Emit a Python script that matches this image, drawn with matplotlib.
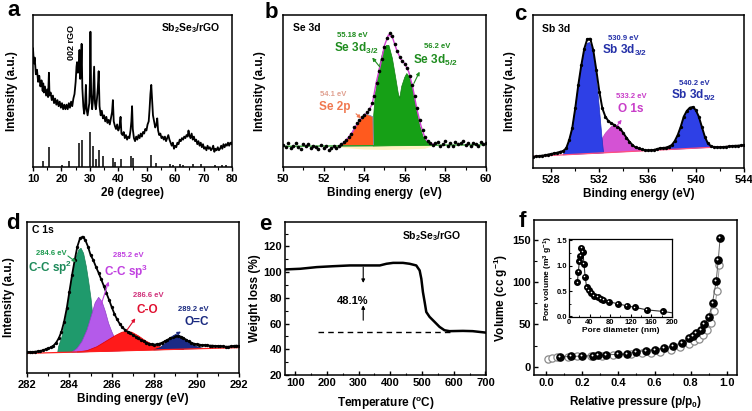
import numpy as np
import matplotlib
matplotlib.use("Agg")
import matplotlib.pyplot as plt
from matplotlib.ticker import MultipleLocator, FormatStrFormatter
from matplotlib import transforms

plt.rcParams['font.family'] = ['Liberation Sans', 'DejaVu Sans']
plt.rcParams['font.weight'] = 'bold'
plt.rcParams['axes.labelweight'] = 'bold'
plt.rcParams['mathtext.fontset'] = 'custom'
plt.rcParams['mathtext.rm'] = 'Liberation Sans:bold'
plt.rcParams['mathtext.it'] = 'Liberation Sans:bold'
plt.rcParams['mathtext.bf'] = 'Liberation Sans:bold'
plt.rcParams['axes.linewidth'] = 1.1

# ---- (a) XRD pattern, intensity in arbitrary units (frame = 0..100)
xrd_theta = [10.0, 10.3, 10.6, 11.0, 11.4, 11.8, 12.2, 12.6, 13.0, 13.4, 13.6, 13.8, 14.2, 14.6, 15.0, 15.3,
             15.6, 15.8, 16.2, 16.6, 17.0, 17.4, 17.8, 18.2, 18.6, 19.0, 19.4, 19.8, 20.2, 20.6, 21.0, 21.4,
             21.8, 22.2, 22.6, 23.0, 23.4, 23.8, 24.2, 24.6, 25.0, 25.3, 25.5, 25.8, 26.1, 26.35, 26.6, 26.9,
             27.1, 27.35, 27.7, 28.0, 28.3, 28.6, 28.85, 29.2, 29.5, 29.8, 30.0, 30.2, 30.45, 30.8, 31.1, 31.5,
             31.8, 32.1, 32.5, 32.8, 33.1, 33.4, 33.8, 34.2, 34.6, 35.0, 35.4, 35.8, 36.2, 36.6, 37.0, 37.4,
             37.8, 38.1, 38.4, 38.8, 39.2, 39.6, 40.0, 40.4, 40.8, 41.1, 41.5, 41.9, 42.3, 42.7, 43.1, 43.5,
             43.9, 44.3, 44.6, 44.85, 45.1, 45.5, 45.9, 46.3, 46.7, 47.1, 47.5, 47.9, 48.3, 48.7, 49.1, 49.5,
             49.9, 50.3, 50.7, 51.0, 51.3, 51.6, 51.9, 52.2, 52.6, 53.0, 53.4, 53.7, 54.0, 54.4, 54.8, 55.2,
             55.6, 56.0, 56.4, 56.8, 57.2, 57.6, 58.0, 58.4, 58.8, 59.2, 59.6, 60.0, 60.4, 60.8, 61.2, 61.6,
             62.0, 62.4, 62.8, 63.2, 63.6, 64.0, 64.4, 64.7, 65.0, 65.4, 65.8, 66.2, 66.6, 67.0, 67.4, 67.8,
             68.2, 68.6, 69.0, 69.4, 69.8, 70.2, 70.6, 71.0, 71.4, 71.8, 72.2, 72.6, 73.0, 73.4, 73.8, 74.2,
             74.6, 75.0, 75.4, 75.8, 76.2, 76.6, 77.0, 77.4, 77.8, 78.2, 78.6, 79.0, 79.4, 79.8, 80.0]
xrd_int = [78, 68, 72, 61, 64, 56, 60, 53, 57, 50, 55, 49, 53, 47, 51, 46,
           62, 47, 49, 44, 47, 42, 45, 41, 44, 40, 43, 39, 42, 38, 41, 38,
           41, 38, 42, 39, 43, 40, 45, 48, 56, 66, 69, 62, 65, 77, 58, 66,
           81, 52, 40, 35, 40, 54, 38, 34, 38, 42, 55, 89, 48, 38, 44, 66,
           42, 38, 45, 52, 63, 40, 34, 37, 32, 34, 30, 33, 29, 31, 28, 32,
           36, 44, 30, 27, 25, 28, 24, 26, 33, 22, 21, 23, 19, 21, 18, 20,
           19, 24, 30, 40, 25, 19, 17, 20, 18, 21, 19, 22, 20, 23, 22, 25,
           24, 28, 30, 38, 48, 54, 44, 34, 30, 26, 28, 32, 24, 21, 22, 19,
           20, 18, 20, 17, 19, 21, 18, 16, 14, 16, 12, 14, 13, 16, 15, 18,
           17, 19, 18, 20, 19, 21, 20, 24, 21, 19, 22, 18, 20, 17, 18, 15,
           17, 14, 16, 13, 15, 12, 13, 11, 14, 12, 13, 11, 12, 14, 10, 12,
           11, 13, 11, 12, 14, 12, 15, 13, 15, 14, 16, 14, 16, 15, 16]
ref_theta = [13.5, 15.5, 20.3, 22.5, 26.1, 27.2, 30.2, 31.1, 32.0, 33.1, 34.6, 38.1, 38.7, 40.8, 44.6,
             45.2, 51.6, 53.4, 58.1, 59.2, 61.6, 62.8, 66.3, 69.2, 73.9, 76.5, 78.0]
ref_height = [4, 13, 1.5, 4, 16, 18, 23, 14, 5, 11, 7, 6, 3.5, 5, 7,
              6, 8, 2.5, 2, 1.5, 2, 1.5, 2, 2, 1.5, 1.2, 1.5]

# ---- (b) Se 3d
se_step = 0.125
se_int = [14.5, 13.0, 15.5, 12.5, 14.0, 15.8, 13.2, 12.0, 14.8, 13.5, 15.2, 12.8, 14.0, 13.0, 11.8, 14.2,
          12.5, 13.6, 11.5, 12.8, 13.8, 12.2, 13.5, 14.8, 16.5, 17.5, 19.5, 22.0, 26.0, 29.0, 31.0, 33.0,
          34.5, 36.0, 38.0, 42.0, 47.0, 55.0, 63.0, 71.0, 79.0, 85.0, 88.0, 86.0, 81.0, 76.0, 72.5, 70.0,
          68.0, 65.0, 60.0, 54.0, 47.0, 39.0, 31.0, 24.5, 20.0, 17.0, 15.5, 14.2, 15.8, 16.5, 13.8, 15.0,
          16.8, 14.0, 15.5, 13.5, 16.2, 14.8, 15.5, 17.0, 14.5, 15.8, 13.8, 16.0, 15.2, 14.0, 16.5, 15.0, 15.8]
se_env_E = [52.8, 53.0, 53.2, 53.4, 53.6, 53.8, 54.0, 54.2, 54.4, 54.6, 54.8, 55.0, 55.2, 55.4, 55.6,
            55.8, 56.0, 56.2, 56.4, 56.6, 56.8, 57.0, 57.2, 57.4]
se_env_I = [14.0, 16.0, 19.0, 22.5, 27.0, 31.0, 33.8, 36.5, 41.5, 56.0, 67.0, 80.0, 87.0, 85.0, 77.0,
            71.0, 68.0, 62.5, 52.0, 38.0, 27.0, 19.0, 16.0, 15.0]
se3d_E = [54.44, 54.47, 54.55, 54.65, 54.76, 54.93, 55.1, 55.22, 55.39, 55.55, 55.68, 55.75, 55.85,
          56.0, 56.1, 56.24, 56.4, 56.57, 56.73, 56.9, 57.06, 57.22, 57.47]
se3d_I = [13.8, 34, 48, 56, 67, 76, 80, 80, 71.5, 59, 48.5, 45, 53, 59, 61.5, 59, 50.7, 38.6, 27.6,
          20, 16.7, 15.2, 14.6]
se2p_E = [52.8, 53.1, 53.37, 53.6, 53.86, 54.02, 54.27, 54.43, 54.46]
se2p_I = [13.8, 16.7, 22.0, 27.6, 32.0, 35.0, 34.0, 33.0, 13.9]
se_halo_E = [52.6, 53.0, 54.0, 55.0, 56.0, 57.0, 57.6, 57.0, 56.0, 55.0, 54.0, 53.0]
se_halo_I = [13.5, 14.0, 14.0, 14.0, 14.3, 14.8, 14.8, 12.0, 11.5, 11.2, 11.5, 12.5]
se_base_E = [50, 60]
se_base_I = [13.6, 14.6]

# ---- (c) Sb 3d
sb_step = 0.25
sb_int = [7.4, 7.6, 7.8, 8.1, 8.3, 8.8, 9.2, 9.6, 10.0, 10.6, 11.1, 12.9, 18.3, 26.0, 39.0, 54.0,
          67.0, 78.0, 84.3, 84.5, 77.0, 64.0, 50.0, 39.0, 33.6, 30.7, 29.2, 28.1, 27.0, 25.5, 22.7, 19.8,
          17.2, 15.0, 13.5, 12.8, 12.2, 11.8, 11.5, 11.6, 11.8, 12.3, 12.9, 13.1, 13.3, 14.0, 15.0, 17.6,
          21.6, 27.0, 33.6, 37.3, 39.4, 39.9, 37.9, 33.6, 27.0, 20.5, 16.1, 14.4, 13.7, 13.6, 13.5, 13.7,
          13.9, 14.1, 14.4, 14.5, 14.6, 14.8, 15.0]
sb1_E = [529.0, 529.25, 529.5, 529.75, 530.0, 530.25, 530.5, 530.75, 531.0, 531.2, 531.5, 531.65,
         531.93, 532.2, 532.35]
sb1_I = [8.6, 12.5, 18.0, 26.0, 39.0, 54.0, 66.0, 76.0, 81.5, 82.0, 76.0, 67.0, 45.5, 21.6, 9.9]
o1s_E = [531.3, 531.5, 532.0, 532.5, 533.0, 533.3, 533.6, 534.0, 534.5, 535.0, 535.5]
o1s_I = [9.5, 11.5, 16.0, 22.7, 27.0, 28.1, 27.5, 23.0, 17.0, 13.5, 11.2]
sb2_E = [537.6, 538.0, 538.25, 538.5, 538.75, 539.0, 539.25, 539.5, 539.75, 540.0, 540.25, 540.5,
         540.75, 541.0, 541.25, 541.5, 541.8]
sb2_I = [12.0, 14.5, 17.3, 21.3, 26.7, 33.2, 37.0, 39.2, 39.6, 37.5, 33.2, 26.5, 20.0, 15.8, 14.0, 13.5, 13.7]
sb_base_E = [526.5, 544]
sb_base_I = [7.6, 14.6]

# ---- (d) C 1s
c_step = 0.125
c_int = [13.7, 13.9, 13.9, 14.1, 14.3, 14.6, 15.0, 15.7, 16.3, 17.0, 18.1, 20.1, 23.0, 27.4, 34.0, 42.8,
         53.9, 64.9, 74.8, 83.7, 89.2, 90.3, 88.1, 83.7, 78.1, 74.8, 70.4, 66.4, 62.0, 57.6, 52.8, 48.3,
         43.5, 39.1, 35.5, 32.5, 30.2, 28.5, 27.4, 26.3, 25.2, 24.1, 23.0, 21.9, 21.0, 20.1, 19.4, 19.0,
         18.8, 19.0, 19.4, 20.1, 21.0, 21.9, 23.0, 23.8, 24.3, 24.5, 24.1, 23.2, 22.1, 21.0, 20.1, 19.4,
         19.0, 18.8, 18.5, 18.5, 18.3, 18.1, 18.1, 17.9, 17.9, 17.7, 17.7, 17.4, 17.4, 17.7, 17.9, 18.1, 17.9]
sp2_E = [283.45, 283.49, 283.65, 283.81, 283.97, 284.12, 284.28, 284.44, 284.55, 284.67, 284.8, 284.91,
         285.02, 285.11, 285.22, 285.33, 285.43]
sp2_I = [13.6, 17.4, 24.0, 35.0, 48.3, 63.8, 74.8, 81.5, 82.6, 79.2, 70.4, 60.5, 49.4, 37.3, 26.3, 17.4, 14.3]
sp3_E = [284.12, 284.36, 284.59, 284.83, 285.07, 285.22, 285.38, 285.54, 285.7, 285.85, 286.0, 286.17, 286.4]
sp3_I = [13.8, 16.3, 20.8, 28.5, 39.5, 46.6, 50.1, 47.2, 40.6, 32.9, 27.4, 22.0, 14.7]
co_E = [284.36, 284.83, 285.3, 285.77, 286.17, 286.48, 286.72, 286.95, 287.27, 287.58, 287.97, 288.45,
        288.92, 289.4]
co_I = [13.9, 14.8, 17.4, 21.4, 24.8, 27.0, 27.6, 27.0, 24.5, 21.4, 18.6, 16.6, 15.6, 15.8]
oc_E = [287.97, 288.29, 288.6, 288.92, 289.15, 289.39, 289.7, 290.02, 290.33]
oc_I = [15.3, 16.8, 20.8, 24.5, 25.0, 23.0, 19.6, 17.4, 16.2]
c_base_E = [282, 292]
c_base_I = [13.0, 16.8]

# ---- (e) TGA
tga_T = [68.6, 115.7, 168, 220, 272.8, 325, 367, 388, 409, 440, 461, 482, 492.7, 498, 503, 508.4,
         513.6, 524, 539.8, 555.5, 571, 587, 629, 660, 700]
tga_W = [102.1, 102.6, 103.9, 104.6, 105.2, 105.2, 105.2, 106.5, 107.2, 107.2, 106.5, 105.2, 101.3,
         94.8, 84.5, 76.8, 69.0, 65.2, 61.3, 57.4, 54.8, 54.1, 54.3, 54.1, 53.0]
tga_level = 53.5
tga_level_T = [173, 587]

# ---- (f) N2 isotherm
ads_p = [0.08, 0.14, 0.2, 0.26, 0.29, 0.33, 0.4, 0.45, 0.5, 0.55, 0.6, 0.65, 0.7, 0.75, 0.79, 0.81,
         0.83, 0.855, 0.875, 0.9, 0.92, 0.94, 0.952, 0.962]
ads_v = [11.5, 12.0, 12.5, 13.0, 13.5, 14.0, 14.5, 15.5, 17.5, 19.0, 20.0, 22.0, 24.5, 28.5, 33.5, 36.0,
         40.0, 44.0, 50.0, 59.0, 76.0, 101.0, 127.0, 153.0]
des_p = [0.01, 0.035, 0.06, 0.12, 0.17, 0.25, 0.31, 0.37, 0.47, 0.53, 0.58, 0.63, 0.69, 0.74, 0.79,
         0.82, 0.845, 0.87, 0.89, 0.91, 0.93, 0.945, 0.958]
des_v = [9.0, 10.5, 11.0, 11.5, 12.0, 12.5, 13.0, 13.5, 15.0, 15.8, 16.5, 17.5, 20.0, 23.0, 27.0,
         30.0, 33.0, 37.0, 43.0, 52.0, 66.0, 90.0, 120.0]
pore_d = [16.3, 18.2, 20.2, 22.1, 24.1, 26.7, 29.3, 31.3, 34.5, 39.0, 43.6, 48.9, 55.4, 61.9, 67.0,
          77.5, 94.5, 112.0, 128.0, 151.0, 182.0, 205.0]
pore_v = [0.667, 0.88, 1.08, 1.19, 1.34, 1.26, 1.03, 0.78, 0.57, 0.51, 0.46, 0.41, 0.38, 0.35, 0.33,
          0.29, 0.25, 0.21, 0.18, 0.13, 0.10, 0.065]

fig = plt.figure(figsize=(7.52, 4.11), dpi=100)


def style(ax, direction='out'):
    ax.tick_params(which='major', direction=direction, length=3, width=1.0, labelsize=8, pad=2)
    ax.tick_params(which='minor', direction=direction, length=1.8, width=0.8)
    for s in ax.spines.values():
        s.set_linewidth(1.1)


def arrow(ax, tail, head, color):
    ax.annotate('', xy=head, xytext=tail,
                arrowprops=dict(arrowstyle='-|>', color=color, lw=0.8, mutation_scale=5,
                                shrinkA=0, shrinkB=0))


# panel a
ax = fig.add_axes([0.0439, 0.5937, 0.2646, 0.3698])
ax.plot(xrd_theta, xrd_int, color='black', lw=1.3)
ax.vlines(ref_theta, 0, ref_height, color='black', lw=1.1)
ax.set_xlim(10, 80)
ax.set_ylim(0, 100)
ax.set_yticks([])
ax.xaxis.set_major_locator(MultipleLocator(10))
ax.xaxis.set_minor_locator(MultipleLocator(5))
style(ax)
ax.set_xlabel('2θ (degree)', fontsize=8.5)
ax.set_ylabel('Intensity (a.u.)', fontsize=8.5)
ax.xaxis.set_label_coords(0.5, -0.13)
ax.yaxis.set_label_coords(-0.075, 0.5)
ax.text(0.794, 0.914, 'Sb$_2$Se$_3$/rGO', transform=ax.transAxes, ha='center', va='center', fontsize=7.5)
ax.text(23.7, 82, '002 rGO', rotation=90, ha='center', va='center', fontsize=6.5)

# panel b
ax = fig.add_axes([0.3763, 0.5937, 0.2699, 0.3698])
se_E = 50 + se_step * np.arange(len(se_int))
ax.fill(se_halo_E, se_halo_I, color='#fff3c2', lw=0)
ax.fill(se3d_E, se3d_I, facecolor='#16a016', edgecolor='#108010', lw=0.5)
ax.fill(se2p_E, se2p_I, facecolor='#ff5a1e', edgecolor='#8090b0', lw=0.6)
ax.plot(se_base_E, se_base_I, color='#20a020', lw=0.9)
ax.plot(se_env_E, se_env_I, color='#d040d0', lw=1.0)
ax.plot(se_E, se_int, 'o', color='black', ms=2.6, mew=0)
ax.set_xlim(50, 60)
ax.set_ylim(0, 100)
ax.set_yticks([])
ax.xaxis.set_major_locator(MultipleLocator(2))
ax.xaxis.set_minor_locator(MultipleLocator(1))
style(ax)
ax.set_xlabel('Binding energy  (eV)', fontsize=8.5)
ax.set_ylabel('Intensity (a.u.)', fontsize=8.5)
ax.xaxis.set_label_coords(0.5, -0.13)
ax.yaxis.set_label_coords(-0.085, 0.5)
tr = ax.transAxes
ax.text(0.049, 0.912, 'Se 3d', transform=tr, ha='left', va='center', fontsize=7.5)
ax.text(0.34, 0.864, '55.18 eV', transform=tr, ha='center', va='center', fontsize=5.5, color='#1e8c1e')
ax.text(0.36, 0.78, 'Se 3d$_{3/2}$', transform=tr, ha='center', va='center', fontsize=8.5, color='#1e8c1e')
ax.text(0.759, 0.79, '56.2 eV', transform=tr, ha='center', va='center', fontsize=5.5, color='#1e8c1e')
ax.text(0.752, 0.70, 'Se 3d$_{5/2}$', transform=tr, ha='center', va='center', fontsize=8.5, color='#1e8c1e')
ax.text(0.246, 0.474, '54.1 eV', transform=tr, ha='center', va='center', fontsize=5.5, color='#e0a090')
ax.text(0.255, 0.397, 'Se 2p', transform=tr, ha='center', va='center', fontsize=8.5, color='#f07850')
arrow(ax, (54.76, 66), (54.4, 72), '#1e8c1e')
arrow(ax, (56.45, 55), (56.73, 62.7), '#1e8c1e')
arrow(ax, (53.6, 35), (53.85, 32), '#f07850')

# panel c
ax = fig.add_axes([0.7088, 0.5912, 0.2806, 0.3723])
sb_E = 526.5 + sb_step * np.arange(len(sb_int))
ax.fill(o1s_E, o1s_I, facecolor='#d452d4', edgecolor='#c040c0', lw=0.5)
ax.fill(sb1_E, sb1_I, facecolor='#2e40e6', edgecolor='#2030c0', lw=0.5)
ax.fill(sb2_E, sb2_I, facecolor='#2e40e6', edgecolor='#2030c0', lw=0.5)
ax.plot(sb_base_E, sb_base_I, color='#ff5080', lw=0.9)
ax.plot(sb_E, sb_int, '-o', color='black', lw=1.4, ms=2.4, mew=0)
ax.set_xlim(526.5, 544)
ax.set_ylim(0, 100)
ax.set_yticks([])
ax.xaxis.set_major_locator(MultipleLocator(4))
ax.xaxis.set_minor_locator(MultipleLocator(2))
style(ax)
ax.set_xlabel('Binding energy (eV)', fontsize=8.5)
ax.set_ylabel('Intensity (a.u.)', fontsize=8.5)
ax.xaxis.set_label_coords(0.5, -0.13)
ax.yaxis.set_label_coords(-0.08, 0.5)
tr = ax.transAxes
ax.text(0.043, 0.908, 'Sb 3d', transform=tr, ha='left', va='center', fontsize=7.5)
ax.text(0.426, 0.848, '530.9 eV', transform=tr, ha='center', va='center', fontsize=5.5, color='#2430a8')
ax.text(0.434, 0.771, 'Sb 3d$_{3/2}$', transform=tr, ha='center', va='center', fontsize=8.5, color='#2430a8')
ax.text(0.465, 0.466, '533.2 eV', transform=tr, ha='center', va='center', fontsize=5.5, color='#c83cc8')
ax.text(0.465, 0.384, 'O 1s', transform=tr, ha='center', va='center', fontsize=8.5, color='#c83cc8')
ax.text(0.763, 0.554, '540.2 eV', transform=tr, ha='center', va='center', fontsize=5.5, color='#2430a8')
ax.text(0.763, 0.477, 'Sb 3d$_{5/2}$', transform=tr, ha='center', va='center', fontsize=8.5, color='#2430a8')
arrow(ax, (533.45, 27.5), (533.85, 31.5), '#c83cc8')

# panel d
ax = fig.add_axes([0.0359, 0.0925, 0.2819, 0.3674])
c_E = 282 + c_step * np.arange(len(c_int))
ax.fill(sp2_E, sp2_I, facecolor='#1f9a6c', edgecolor='#188058', lw=0.5)
ax.fill(sp3_E, sp3_I, facecolor='#b45aea', edgecolor='#9040c8', lw=0.5)
ax.fill(co_E, co_I, facecolor='#ff1a1a', edgecolor='#e00000', lw=0.5)
ax.fill(oc_E, oc_I, facecolor='#1b2a86', edgecolor='#101c60', lw=0.5)
ax.plot(c_base_E, c_base_I, color='#ff2020', lw=0.9)
ax.plot(c_E, c_int, '-o', color='black', lw=1.3, ms=2.4, mew=0)
ax.set_xlim(282, 292)
ax.set_ylim(0, 100)
ax.set_yticks([])
ax.xaxis.set_major_locator(MultipleLocator(2))
ax.xaxis.set_minor_locator(MultipleLocator(1))
style(ax)
ax.set_xlabel('Binding energy (eV)', fontsize=8.5)
ax.set_ylabel('Intensity (a.u.)', fontsize=8.5)
ax.xaxis.set_label_coords(0.5, -0.13)
ax.yaxis.set_label_coords(-0.055, 0.5)
tr = ax.transAxes
ax.text(0.024, 0.947, 'C 1s', transform=tr, ha='left', va='center', fontsize=7.5)
ax.text(0.113, 0.793, '284.6 eV', transform=tr, ha='center', va='center', fontsize=5.5, color='#1e9a50')
ax.text(0.107, 0.693, 'C-C sp$^2$', transform=tr, ha='center', va='center', fontsize=8.5, color='#1e8a5a')
ax.text(0.48, 0.781, '285.2 eV', transform=tr, ha='center', va='center', fontsize=5.5, color='#c040e0')
ax.text(0.469, 0.671, 'C-C sp$^3$', transform=tr, ha='center', va='center', fontsize=8.5, color='#c040e0')
ax.text(0.574, 0.51, '286.6 eV', transform=tr, ha='center', va='center', fontsize=5.5, color='#d0307a')
ax.text(0.566, 0.417, 'C-O', transform=tr, ha='center', va='center', fontsize=8.5, color='#e01030')
ax.text(0.783, 0.422, '289.2 eV', transform=tr, ha='center', va='center', fontsize=5.5, color='#1a2a80')
ax.text(0.799, 0.34, 'O=C', transform=tr, ha='center', va='center', fontsize=8.5, color='#1a2a80')
arrow(ax, (283.93, 77.5), (284.31, 73.5), '#1e9a50')
arrow(ax, (285.49, 45), (285.85, 60.5), '#c040e0')
arrow(ax, (286.72, 28.5), (287.11, 36.2), '#e01030')
arrow(ax, (288.84, 24), (289.26, 27.4), '#1a2a80')

# panel e
ax = fig.add_axes([0.3790, 0.0876, 0.2673, 0.3723])
ax.plot(tga_T, tga_W, color='black', lw=1.8)
ax.plot(tga_level_T, [tga_level, tga_level], color='black', lw=1.0, ls=(0, (4, 3)))
ax.set_xlim(68, 702)
ax.set_ylim(20, 139)
ax.xaxis.set_major_locator(MultipleLocator(100))
ax.xaxis.set_minor_locator(MultipleLocator(50))
ax.yaxis.set_major_locator(MultipleLocator(20))
ax.yaxis.set_minor_locator(MultipleLocator(10))
style(ax, 'in')
ax.set_xlabel('Temperature ($^o$C)', fontsize=8.5)
ax.set_ylabel('Weight loss (%)', fontsize=8.5)
ax.xaxis.set_label_coords(0.5, -0.13)
ax.yaxis.set_label_coords(-0.12, 0.5)
ax.text(0.731, 0.908, 'Sb$_2$Se$_3$/rGO', transform=ax.transAxes, ha='center', va='center', fontsize=7.5)
ax.text(282, 77.3, '48.1%', ha='center', va='center', fontsize=8)
arrow(ax, (314.7, 103.9), (314.7, 91.6), 'black')
arrow(ax, (314.7, 62.6), (314.7, 74.2), 'black')

# panel f
ax = fig.add_axes([0.7101, 0.0876, 0.2699, 0.3771])
ax.plot(des_p, des_v, '-o', color='#9a9a9a', lw=0.7, ms=5.2, mfc='white', mec='#8a8a8a', mew=0.9)
ax.plot(ads_p, ads_v, '-o', color='#606060', lw=0.7, ms=5.2, mfc='black', mec='black')
hl = transforms.offset_copy(ax.transData, fig=fig, x=-1.0, y=1.0, units='dots')
ax.plot(ads_p, ads_v, 'o', color='white', ms=1.4, mew=0, transform=hl)
ax.set_xlim(-0.066, 1.055)
ax.set_ylim(-10, 174)
ax.xaxis.set_major_locator(MultipleLocator(0.2))
ax.xaxis.set_minor_locator(MultipleLocator(0.1))
ax.xaxis.set_major_formatter(FormatStrFormatter('%.1f'))
ax.yaxis.set_major_locator(MultipleLocator(50))
ax.yaxis.set_minor_locator(MultipleLocator(25))
style(ax, 'in')
ax.set_xlabel('Relative pressure (p/p$_0$)', fontsize=8.5)
ax.set_ylabel('Volume (cc g$^{-1}$)', fontsize=8.5)
ax.xaxis.set_label_coords(0.5, -0.12)
ax.yaxis.set_label_coords(-0.12, 0.5)

ins = fig.add_axes([0.7566, 0.2287, 0.1370, 0.1898])
ins.plot(pore_d, pore_v, '-', color='#303030', lw=0.8)
ins.plot(pore_d[:-1], pore_v[:-1], 'o', color='black', ms=4.0)
hl2 = transforms.offset_copy(ins.transData, fig=fig, x=-0.8, y=0.8, units='dots')
ins.plot(pore_d[:-1], pore_v[:-1], 'o', color='white', ms=1.1, mew=0, transform=hl2)
ins.set_xlim(0, 200)
ins.set_ylim(-0.01, 1.52)
ins.xaxis.set_major_locator(MultipleLocator(40))
ins.xaxis.set_minor_locator(MultipleLocator(20))
ins.yaxis.set_major_locator(MultipleLocator(0.5))
ins.yaxis.set_minor_locator(MultipleLocator(0.25))
ins.yaxis.set_major_formatter(FormatStrFormatter('%.1f'))
ins.tick_params(which='major', direction='in', length=2, width=0.8, labelsize=5.5, pad=1.5)
ins.tick_params(which='minor', direction='in', length=1.2, width=0.6)
for s in ins.spines.values():
    s.set_linewidth(0.9)
ins.set_xlabel('Pore diameter (nm)', fontsize=6, labelpad=0.5)
ins.set_ylabel('Pore volume (m$^3$ g$^{-1}$)', fontsize=6, labelpad=1)

# panel letters
for letter, px, py in [('a', 14, 11), ('b', 271, 12), ('c', 520, 15),
                       ('d', 13, 223), ('e', 265, 224), ('f', 522, 221)]:
    fig.text(px / 752, 1 - py / 411, letter, ha='center', va='center', fontsize=16, fontweight='bold')

fig.savefig('out.png', dpi=100)
